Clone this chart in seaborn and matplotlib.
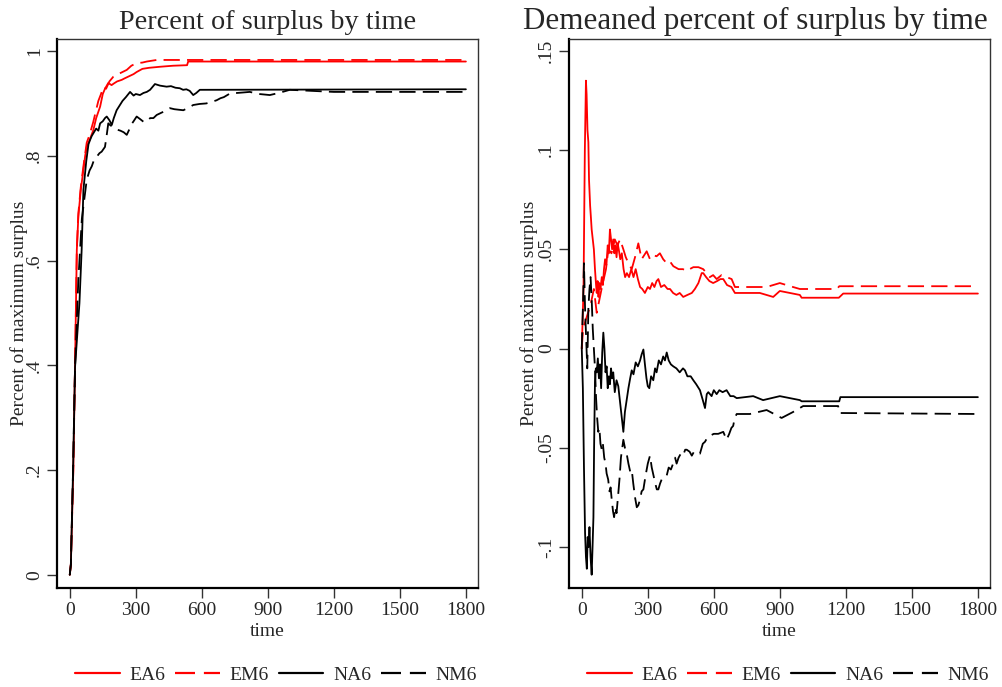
import matplotlib
matplotlib.use("Agg")
import matplotlib.pyplot as plt
import seaborn as sns
import pandas as pd

# ---- Percent of maximum surplus (left panel) ----
ea6_t = [0, 5, 16, 24, 32, 39, 50, 62, 70, 77, 90, 107, 120, 138, 150, 160, 175, 190, 200, 215, 236, 250,
         270, 290, 304, 330, 360, 410, 470, 533, 538, 1800]
ea6_v = [0.0, 0.02, 0.2, 0.40, 0.62, 0.684, 0.735, 0.773, 0.800, 0.817, 0.830, 0.849, 0.872, 0.894, 0.918,
         0.928, 0.939, 0.935, 0.938, 0.942, 0.945, 0.948, 0.952, 0.956, 0.960, 0.966, 0.968, 0.970, 0.972,
         0.973, 0.980, 0.980]

em6_t = [0, 5, 16, 24, 32, 39, 50, 62, 77, 90, 107, 120, 130, 142, 153, 165, 180, 198, 215, 230, 259, 280,
         304, 330, 350, 395, 1800]
em6_v = [0.0, 0.02, 0.2, 0.40, 0.62, 0.690, 0.740, 0.780, 0.825, 0.840, 0.865, 0.888, 0.905, 0.918, 0.932,
         0.928, 0.942, 0.951, 0.955, 0.958, 0.964, 0.972, 0.977, 0.978, 0.980, 0.983, 0.983]

na6_t = [0, 5, 15, 24, 44, 54, 62, 75, 85, 92, 100, 110, 120, 130, 138, 150, 160, 168, 180, 191, 200, 213,
         225, 240, 255, 274, 290, 300, 319, 335, 350, 365, 387, 410, 440, 460, 480, 500, 515, 530, 545, 561,
         575, 591, 1800]
na6_v = [0.0, 0.02, 0.2, 0.397, 0.519, 0.62, 0.735, 0.790, 0.822, 0.830, 0.838, 0.845, 0.852, 0.848, 0.862,
         0.866, 0.872, 0.875, 0.868, 0.859, 0.872, 0.887, 0.895, 0.905, 0.912, 0.922, 0.915, 0.918, 0.916,
         0.920, 0.922, 0.926, 0.937, 0.934, 0.932, 0.933, 0.930, 0.929, 0.926, 0.927, 0.924, 0.916, 0.920,
         0.926, 0.927]

nm6_t = [0, 5, 15, 24, 39, 55, 77, 90, 100, 110, 122, 135, 145, 160, 168, 175, 185, 198, 215, 230, 245, 259,
         270, 280, 290, 304, 320, 335, 350, 365, 380, 395, 410, 430, 455, 475, 495, 516, 540, 561, 590, 620,
         645, 667, 685, 700, 728, 760, 790, 818, 860, 885, 909, 950, 1000, 1100, 1200, 1500, 1800]
nm6_v = [0.0, 0.02, 0.2, 0.397, 0.563, 0.680, 0.754, 0.772, 0.780, 0.792, 0.798, 0.805, 0.808, 0.817, 0.840,
         0.862, 0.858, 0.855, 0.850, 0.848, 0.845, 0.840, 0.850, 0.860, 0.866, 0.875, 0.870, 0.865, 0.865,
         0.872, 0.872, 0.878, 0.881, 0.885, 0.891, 0.889, 0.888, 0.887, 0.892, 0.897, 0.899, 0.900, 0.903,
         0.906, 0.910, 0.912, 0.919, 0.920, 0.921, 0.922, 0.918, 0.917, 0.916, 0.920, 0.926, 0.924, 0.922,
         0.922, 0.922]

# ---- Demeaned percent of surplus (right panel) ----
dea6_t = [0, 8, 14, 19, 22, 26, 30, 33, 38, 41, 45, 50, 55, 60, 65, 68, 72, 76, 80, 85, 91, 96, 101, 106,
          112, 118, 123, 128, 133, 138, 143, 148, 153, 158, 163, 168, 175, 182, 190, 197, 205, 215, 225, 235,
          245, 255, 265, 275, 287, 300, 310, 320, 330, 340, 348, 360, 375, 390, 401, 415, 430, 445, 461, 480,
          500, 514, 530, 545, 552, 565, 580, 597, 615, 630, 643, 660, 680, 696, 809, 870, 900, 991, 999,
          1168, 1188, 1800]
dea6_v = [0.0, 0.03, 0.10, 0.135, 0.128, 0.110, 0.104, 0.085, 0.072, 0.067, 0.060, 0.055, 0.050, 0.040,
          0.032, 0.028, 0.034, 0.026, 0.033, 0.030, 0.036, 0.032, 0.040, 0.045, 0.042, 0.052, 0.048, 0.060,
          0.055, 0.050, 0.055, 0.048, 0.052, 0.046, 0.053, 0.050, 0.045, 0.048, 0.040, 0.036, 0.038, 0.036,
          0.040, 0.036, 0.040, 0.035, 0.031, 0.030, 0.028, 0.031, 0.030, 0.033, 0.031, 0.034, 0.035, 0.031,
          0.032, 0.030, 0.030, 0.028, 0.027, 0.028, 0.026, 0.027, 0.028, 0.030, 0.033, 0.038, 0.038, 0.036,
          0.034, 0.033, 0.034, 0.035, 0.035, 0.032, 0.031, 0.028, 0.028, 0.026, 0.029, 0.027, 0.0256, 0.0256,
          0.0277, 0.0277]

dem6_t = [0, 6, 20, 40, 55, 68, 90, 110, 121, 135, 150, 162, 174, 189, 200, 212, 227, 242, 257, 272, 295,
          310, 325, 340, 355, 370, 386, 400, 416, 440, 460, 476, 490, 507, 530, 552, 567, 582, 597, 613,
          635, 658, 681, 696, 760, 840, 900, 960, 991, 1160, 1170, 1800]
dem6_v = [0.0, 0.010, 0.015, 0.022, 0.030, 0.018, 0.030, 0.040, 0.050, 0.048, 0.055, 0.052, 0.055, 0.050,
          0.046, 0.043, 0.040, 0.046, 0.053, 0.045, 0.049, 0.045, 0.047, 0.0465, 0.048, 0.045, 0.043, 0.044,
          0.0415, 0.040, 0.040, 0.039, 0.040, 0.041, 0.041, 0.040, 0.038, 0.036, 0.037, 0.035, 0.037, 0.036,
          0.035, 0.031, 0.031, 0.031, 0.033, 0.031, 0.030, 0.030, 0.0314, 0.0314]

dna6_t = [0, 5, 10, 15, 19, 23, 27, 31, 35, 40, 45, 49, 53, 56, 60, 64, 68, 73, 78, 83, 88, 93, 98, 103,
          108, 113, 118, 123, 128, 133, 138, 143, 150, 158, 166, 175, 182, 189, 196, 204, 212, 220, 227, 235,
          245, 255, 265, 272, 280, 287, 294, 300, 307, 315, 325, 333, 340, 350, 360, 370, 378, 386, 395, 405,
          416, 430, 445, 460, 469, 480, 495, 507, 520, 537, 550, 560, 568, 575, 590, 600, 613, 625, 640, 658,
          675, 690, 704, 779, 824, 900, 991, 999, 1170, 1175, 1800]
dna6_v = [0.0, -0.02, -0.06, -0.093, -0.105, -0.111, -0.095, -0.100, -0.090, -0.105, -0.114, -0.100, -0.085,
          -0.050, -0.017, -0.010, -0.012, -0.005, -0.015, -0.008, -0.020, -0.002, 0.008, 0.000, -0.012,
          -0.009, -0.020, -0.014, -0.018, -0.010, -0.015, -0.012, -0.022, -0.016, -0.019, -0.028, -0.035,
          -0.042, -0.032, -0.026, -0.020, -0.015, -0.011, -0.013, -0.007, -0.009, -0.006, -0.003, -0.0005,
          -0.008, -0.015, -0.019, -0.020, -0.014, -0.016, -0.010, -0.012, -0.006, -0.008, -0.004, -0.006,
          -0.002, -0.006, -0.008, -0.009, -0.010, -0.012, -0.010, -0.011, -0.014, -0.014, -0.016, -0.018,
          -0.021, -0.026, -0.030, -0.023, -0.022, -0.024, -0.021, -0.023, -0.021, -0.022, -0.021, -0.024,
          -0.024, -0.025, -0.024, -0.026, -0.024, -0.026, -0.0266, -0.0266, -0.0245, -0.0245]

dnm6_t = [0, 5, 10, 15, 20, 25, 30, 35, 40, 45, 50, 55, 60, 65, 70, 75, 80, 85, 91, 96, 102, 108, 113, 120,
          126, 131, 136, 142, 147, 152, 158, 166, 172, 178, 184, 189, 196, 204, 212, 220, 227, 234, 242, 250,
          257, 265, 272, 280, 290, 300, 305, 310, 318, 326, 334, 341, 348, 356, 363, 371, 379, 386, 395, 405,
          415, 424, 431, 440, 450, 460, 470, 477, 490, 500, 510, 520, 537, 550, 560, 570, 582, 600, 620, 643,
          658, 670, 680, 688, 695, 704, 764, 840, 908, 960, 1006, 1165, 1170, 1800]
dnm6_v = [0.0, 0.02, 0.043, 0.02, 0.005, -0.010, 0.020, 0.030, 0.036, 0.025, 0.010, 0.0, -0.010, -0.025,
          -0.035, -0.042, -0.040, -0.048, -0.051, -0.048, -0.055, -0.058, -0.063, -0.066, -0.072, -0.070,
          -0.076, -0.082, -0.085, -0.080, -0.083, -0.073, -0.065, -0.055, -0.050, -0.046, -0.050, -0.053,
          -0.058, -0.062, -0.061, -0.068, -0.075, -0.080, -0.079, -0.076, -0.072, -0.071, -0.064, -0.058,
          -0.056, -0.054, -0.060, -0.064, -0.068, -0.071, -0.071, -0.068, -0.066, -0.065, -0.064, -0.064,
          -0.060, -0.061, -0.058, -0.055, -0.058, -0.055, -0.053, -0.054, -0.051, -0.051, -0.052, -0.054,
          -0.052, -0.053, -0.053, -0.048, -0.047, -0.045, -0.044, -0.043, -0.043, -0.042, -0.046, -0.043,
          -0.040, -0.039, -0.035, -0.033, -0.033, -0.031, -0.035, -0.032, -0.029, -0.029, -0.0325, -0.033]

series_names = ["EA6", "EM6", "NA6", "NM6"]
series_colors = ["#ff0000", "#ff0000", "#000000", "#000000"]
dash_pattern = (0, (9, 4))
series_styles = ["-", dash_pattern, "-", dash_pattern]

left_ticks = [0, 0.2, 0.4, 0.6, 0.8, 1.0]
left_tick_labels = ["0", ".2", ".4", ".6", ".8", "1"]
right_ticks = [-0.1, -0.05, 0.0, 0.05, 0.1, 0.15]
right_tick_labels = ["-.1", "-.05", "0", ".05", ".1", ".15"]
x_ticks = [0, 300, 600, 900, 1200, 1500, 1800]

sns.set_theme(style="white")
plt.rcParams["font.family"] = ["Liberation Serif", "DejaVu Serif"]

fig = plt.figure(figsize=(10.02, 6.87), dpi=100)
W, H = 1002, 687
ax_l = fig.add_axes([57 / W, 1 - 588 / H, 421 / W, 549 / H])
ax_r = fig.add_axes([569 / W, 1 - 588 / H, 421 / W, 549 / H])


def to_frame(t, v):
    return pd.DataFrame({"time": t, "value": v})


left_data = [(ea6_t, ea6_v), (em6_t, em6_v), (na6_t, na6_v), (nm6_t, nm6_v)]
right_data = [(dea6_t, dea6_v), (dem6_t, dem6_v), (dna6_t, dna6_v), (dnm6_t, dnm6_v)]


def draw_panel(ax, data, title, title_x, title_size, ticks, tick_labels, ylim, label_x):
    for (t, v), name, col, ls in zip(data, series_names, series_colors, series_styles):
        sns.lineplot(data=to_frame(t, v), x="time", y="value", ax=ax, color=col,
                     linewidth=1.3, estimator=None, sort=False, label=name)
        ax.lines[-1].set_linestyle(ls)
    ax.set_xlim(-58, 1855)
    ax.set_ylim(*ylim)
    ax.set_xticks(x_ticks)
    ax.set_xticklabels([str(x) for x in x_ticks])
    ax.set_yticks(ticks)
    ax.set_yticklabels(tick_labels, rotation=90, va="center")
    ax.tick_params(axis="both", which="both", direction="out", length=7, width=1.0,
                   color="#333333", labelsize=14, pad=3, bottom=True, left=True)
    ax.set_xlabel("time", fontsize=14, labelpad=3)
    ax.set_ylabel("Percent of maximum surplus", fontsize=14)
    ax.yaxis.set_label_coords(label_x, 0.5)
    ax.set_title(title, fontsize=title_size, pad=7, x=title_x)
    for side in ["left", "bottom"]:
        ax.spines[side].set_linewidth(1.6)
        ax.spines[side].set_color("#000000")
    for side in ["top", "right"]:
        ax.spines[side].set_linewidth(1.0)
        ax.spines[side].set_color("#333333")
    ax.grid(False)
    leg = ax.legend(loc="center", bbox_to_anchor=(0.52, -0.158), ncol=4, frameon=False,
                    fontsize=14, handlelength=2.3, handletextpad=0.5, columnspacing=0.5)
    for line, ls in zip(leg.get_lines(), series_styles):
        line.set_linestyle(ls)
        line.set_linewidth(1.6)


draw_panel(ax_l, left_data, "Percent of surplus by time", 0.5, 20.3, left_ticks, left_tick_labels,
           (-0.025, 1.023), -0.069)
draw_panel(ax_r, right_data, "Demeaned percent of surplus by time", (755 - 569) / 421, 22.3,
           right_ticks, right_tick_labels, (-0.1207, 0.156), -0.0736)

fig.savefig("out.png", dpi=100, facecolor="white")
